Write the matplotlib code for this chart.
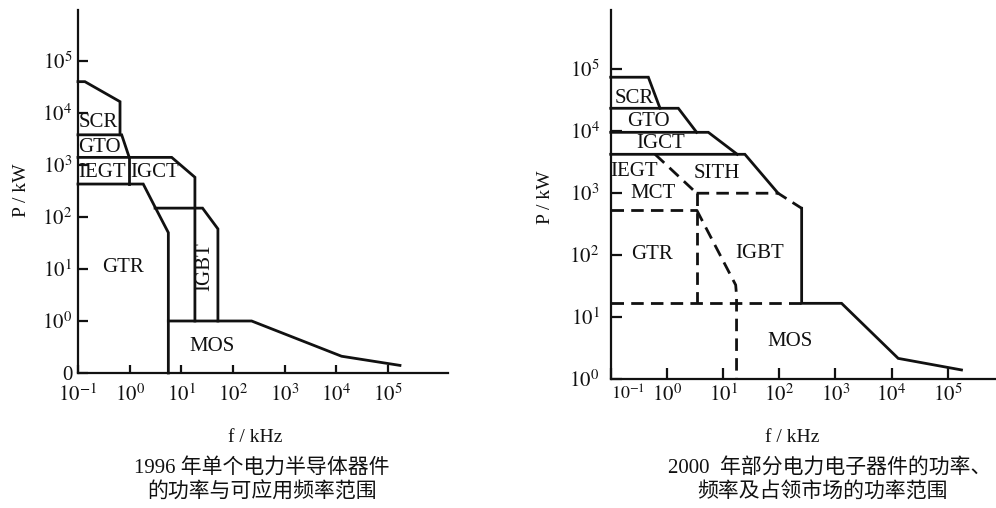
import matplotlib
matplotlib.use("Agg")
import matplotlib.pyplot as plt

plt.rcParams['font.family'] = ['Liberation Serif', 'Noto Sans CJK SC', 'DejaVu Sans']
plt.rcParams['mathtext.fontset'] = 'stix'

# ---------------- data: left chart (1996) ----------------
L_SCR_F = [0.1, 0.136, 0.65, 0.65]
L_SCR_P = [4.0e4, 4.0e4, 1.65e4, 3.8e3]
L_GTO_F = [0.1, 0.70, 0.98]
L_GTO_P = [3.8e3, 3.8e3, 1.4e3]
L_IGCT_F = [0.1, 6.5, 18.3, 18.3]
L_IGCT_P = [1.4e3, 1.4e3, 580, 1.0]
L_IEGT_F = [0.98, 0.98]
L_IEGT_P = [1.4e3, 430]
L_GTR_F = [0.1, 1.83, 3.1, 5.6, 5.6]
L_GTR_P = [430, 430, 155, 50, 0.1]
L_IGBT_F = [3.1, 25.7, 51, 51]
L_IGBT_P = [148, 148, 59, 1.0]
L_MOS_F = [5.6, 229, 12600, 170000]
L_MOS_P = [1.0, 1.0, 0.21, 0.14]

L_LABELS = ['SCR', 'GTO', 'IEGT', 'IGCT', 'GTR', 'IGBT', 'MOS']
L_LABEL_F = [0.247, 0.255, 0.295, 3.04, 0.73, 28.6, 38.5]
L_LABEL_P = [6600, 2190, 725, 725, 10.7, 11.0, 0.32]

L_XTICKS = [0.1, 1, 10, 100, 1e3, 1e4, 1e5]
L_XTICKLABELS = [r'$10^{-1}$', r'$10^{0}$', r'$10^{1}$', r'$10^{2}$', r'$10^{3}$', r'$10^{4}$', r'$10^{5}$']
L_YTICKS = [0.1, 1, 10, 100, 1e3, 1e4, 1e5]
L_YTICKLABELS = ['0', r'$10^{0}$', r'$10^{1}$', r'$10^{2}$', r'$10^{3}$', r'$10^{4}$', r'$10^{5}$']

# ---------------- data: right chart (2000) ----------------
R_SCR_F = [0.1, 0.468, 0.755]
R_SCR_P = [73500, 73500, 23200]
R_GTO_F = [0.1, 1.60, 3.39]
R_GTO_P = [23200, 23200, 9500]
R_IGCT_F = [0.1, 5.47, 17.9]
R_IGCT_P = [9500, 9500, 4200]
R_SITH_F = [0.1, 24.5, 95.5]
R_SITH_P = [4200, 4200, 990]
R_MOS_F = [251, 251, 1290, 13150, 176000]
R_MOS_P = [566, 16.6, 16.6, 2.15, 1.40]

R_IEGT_D_F = [0.617, 3.39]
R_IEGT_D_P = [4200, 990]
R_MCT_D_F = [3.39, 95.5, 251]
R_MCT_D_P = [990, 990, 566]
R_GTRTOP_D_F = [0.1, 3.39]
R_GTRTOP_D_P = [532, 532]
R_GTRV_D_F = [3.39, 3.39]
R_GTRV_D_P = [990, 16.6]
R_IGBT_D_F = [3.39, 16.8, 17.4, 17.4]
R_IGBT_D_P = [532, 32.8, 22, 1.0]
R_MOSTOP_D_F = [0.1, 251]
R_MOSTOP_D_P = [16.6, 16.6]

R_LABELS = ['SCR', 'GTO', 'IGCT', 'IEGT', 'SITH', 'MCT', 'GTR', 'IGBT', 'MOS']
R_LABEL_F = [0.264, 0.468, 0.776, 0.26, 7.69, 0.575, 0.537, 45.4, 155]
R_LABEL_P = [33650, 14100, 6170, 2190, 2075, 990, 100, 106, 3.98]

R_XTICKS = [0.1, 1, 10, 100, 1e3, 1e4, 1e5]
R_XTICKLABELS = [r'$10^{-1}$', r'$10^{0}$', r'$10^{1}$', r'$10^{2}$', r'$10^{3}$', r'$10^{4}$', r'$10^{5}$']
R_YTICKS = [1, 10, 100, 1e3, 1e4, 1e5]
R_YTICKLABELS = [r'$10^{0}$', r'$10^{1}$', r'$10^{2}$', r'$10^{3}$', r'$10^{4}$', r'$10^{5}$']

X_LABEL = 'f / kHz'
Y_LABEL = 'P / kW'
L_CAPTION = ['1996 年单个电力半导体器件', '的功率与可应用频率范围']
R_CAPTION = ['2000  年部分电力电子器件的功率、', '频率及占领市场的功率范围']

# ---------------- drawing ----------------
INK = '#111111'
LW = 2.0
DASH = (0, (4.5, 2.6))
LABEL_FS = 15
TICK_FS = 15

fig = plt.figure(figsize=(9.96, 5.08), dpi=100)

axL = fig.add_axes([78 / 996, 1 - 373 / 508, 370 / 996, 363 / 508])
axR = fig.add_axes([610.7 / 996, 1 - 379 / 508, 385.3 / 996, 369 / 508])

for ax in (axL, axR):
    ax.set_xscale('log')
    ax.set_yscale('log')
    for s in ('top', 'right'):
        ax.spines[s].set_visible(False)
    for s in ('left', 'bottom'):
        ax.spines[s].set_linewidth(1.6)
        ax.spines[s].set_color(INK)
    ax.minorticks_off()
    ax.patch.set_alpha(0)

axL.set_xlim(0.1, 10 ** 6.16)
axL.set_ylim(0.1, 10 ** 5.98)
axR.set_xlim(0.1, 10 ** 5.86)
axR.set_ylim(1, 10 ** 5.95)

# left chart lines
for f, p in [(L_SCR_F, L_SCR_P), (L_GTO_F, L_GTO_P), (L_IGCT_F, L_IGCT_P),
             (L_IEGT_F, L_IEGT_P), (L_GTR_F, L_GTR_P), (L_IGBT_F, L_IGBT_P),
             (L_MOS_F, L_MOS_P)]:
    axL.plot(f, p, color=INK, lw=LW, solid_joinstyle='miter', clip_on=False)

for name, f, p in zip(L_LABELS, L_LABEL_F, L_LABEL_P):
    rot = 90 if name == 'IGBT' else 0
    axL.text(f, p, name, ha='center', va='center', fontsize=LABEL_FS, rotation=rot, color=INK)

# right chart lines
for f, p in [(R_SCR_F, R_SCR_P), (R_GTO_F, R_GTO_P), (R_IGCT_F, R_IGCT_P),
             (R_SITH_F, R_SITH_P), (R_MOS_F, R_MOS_P)]:
    axR.plot(f, p, color=INK, lw=LW, solid_joinstyle='miter', clip_on=False)

for f, p in [(R_IEGT_D_F, R_IEGT_D_P), (R_MCT_D_F, R_MCT_D_P), (R_GTRTOP_D_F, R_GTRTOP_D_P),
             (R_GTRV_D_F, R_GTRV_D_P), (R_IGBT_D_F, R_IGBT_D_P), (R_MOSTOP_D_F, R_MOSTOP_D_P)]:
    axR.plot(f, p, color=INK, lw=LW, linestyle=DASH, clip_on=False)

for name, f, p in zip(R_LABELS, R_LABEL_F, R_LABEL_P):
    axR.text(f, p, name, ha='center', va='center', fontsize=LABEL_FS, color=INK)

# ticks
axL.set_xticks(L_XTICKS)
axL.set_xticklabels(L_XTICKLABELS)
axL.set_yticks(L_YTICKS)
axL.set_yticklabels(L_YTICKLABELS)
axL.tick_params(axis='x', direction='in', length=6, width=1.6, pad=8, labelsize=TICK_FS, colors=INK)
axL.tick_params(axis='y', direction='in', length=7, width=1.6, pad=4, labelsize=TICK_FS, colors=INK)

axR.set_xticks(R_XTICKS)
axR.set_xticklabels(R_XTICKLABELS)
axR.set_yticks(R_YTICKS)
axR.set_yticklabels(R_YTICKLABELS)
axR.tick_params(axis='x', direction='in', length=8, width=1.6, pad=4, labelsize=TICK_FS, colors=INK)
axR.tick_params(axis='y', direction='in', length=8, width=1.6, pad=8, labelsize=TICK_FS, colors=INK)
# first x label on the right chart starts at the corner, as in the original
first = axR.get_xticklabels()[0]
first.set_horizontalalignment('left')
first.set_fontsize(13)

# axis titles and captions (figure pixel coords converted to fractions)
def fx(px):
    return px / 996

def fy(py):
    return 1 - py / 508

fig.text(fx(22), fy(190), Y_LABEL, rotation=90, ha='center', va='center', fontsize=14, color=INK)
fig.text(fx(545), fy(197), Y_LABEL, rotation=90, ha='center', va='center', fontsize=14, color=INK)
fig.text(fx(255), fy(438), X_LABEL, ha='center', va='center', fontsize=14, color=INK)
fig.text(fx(792), fy(438), X_LABEL, ha='center', va='center', fontsize=14, color=INK)
fig.text(fx(262), fy(468), L_CAPTION[0], ha='center', va='center', fontsize=15, color=INK)
fig.text(fx(262), fy(493), L_CAPTION[1], ha='center', va='center', fontsize=15, color=INK)
fig.text(fx(830), fy(468), R_CAPTION[0], ha='center', va='center', fontsize=15, color=INK)
fig.text(fx(822), fy(493), R_CAPTION[1], ha='center', va='center', fontsize=15, color=INK)

fig.savefig('out.png', dpi=100)
